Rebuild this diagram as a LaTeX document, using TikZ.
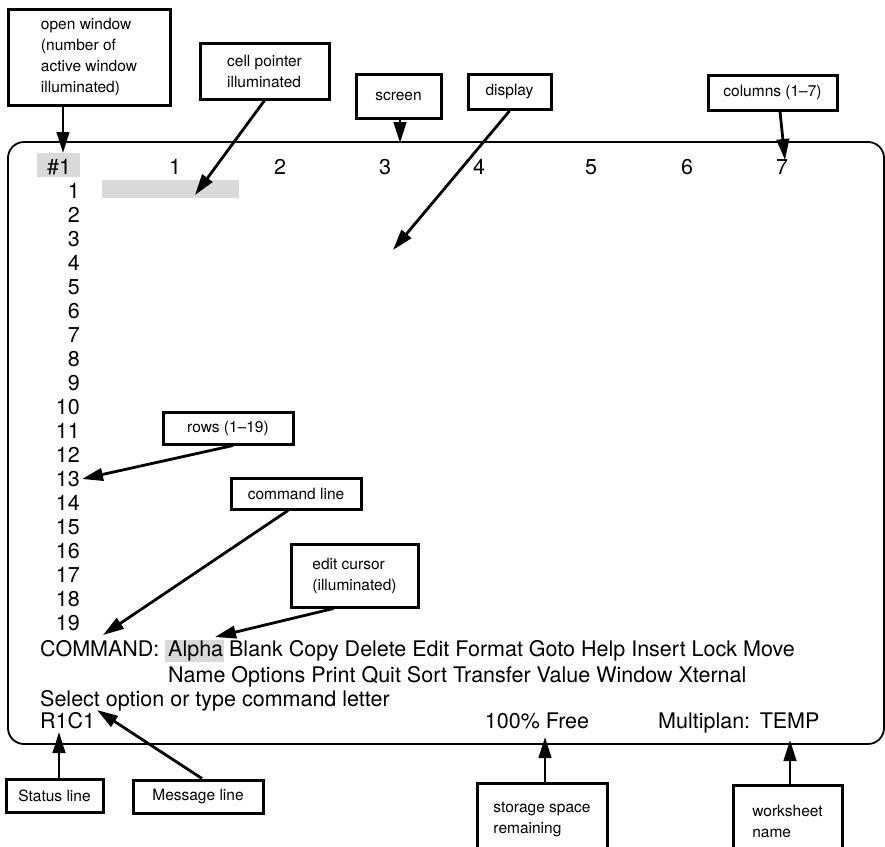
\documentclass[tikz,border=0pt]{standalone}
\usepackage{fontspec}
\setmainfont{TeX Gyre Heros}
\usetikzlibrary{arrows.meta}
\begin{document}
\begin{tikzpicture}[x=1pt,y=-1pt,
  cbox/.style={draw, line width=3pt, font=\fontsize{15.5}{21}\selectfont, inner sep=0pt, align=left},
  arr/.style={line width=2.8pt, -{Triangle[length=21pt,width=12.5pt]}},
  scr/.style={font=\fontsize{21.5}{24}\selectfont, inner sep=0pt},
  litbg/.style={fill=gray!30, draw=none, inner sep=0pt}]
\clip (0,0) rectangle (885,846);
% screen
\draw[line width=1.8pt, rounded corners=16pt] (8,142) rectangle (884,744);
% illuminated areas
\node[litbg, minimum width=43, minimum height=24] (winbg) at (58.5,165) {};
\node[litbg, minimum width=137, minimum height=18] (ptr) at (170.5,189) {};
\node[litbg, minimum width=59, minimum height=22] (alphabg) at (194.5,651) {};
% header
\node[scr, anchor=base] (win) at (59,174.5) {\#1};
\foreach \c/\x in {1/175,2/280,3/385,4/479,5/591,6/687,7/782}
  \node[scr, anchor=base] (col\c) at (\x,174.5) {\c};
% rows
\foreach \r in {1,...,19}
  \node[scr, anchor=base east] (row\r) at (80,{198.5+24*(\r-1)}) {\r};
% command area
\node[scr, anchor=base west] (cmd) at (40,656) {COMMAND:};
\node[scr, anchor=base west] (menu1) at (168,656) {Alpha Blank Copy Delete Edit Format Goto Help Insert Lock Move};
\node[scr, anchor=base west] (menu2) at (168,682) {Name Options Print Quit Sort Transfer Value Window Xternal};
\node[scr, anchor=base west] (msg) at (40,706) {Select option or type command letter};
\node[scr, anchor=base west] (stat) at (40,728) {R1C1};
\node[scr, anchor=base] (free) at (537,728) {100\% Free};
\node[scr, anchor=base west] (wsn) at (658,728) {Multiplan:\ \,TEMP};
% callout boxes
\node[cbox, minimum width=162, minimum height=96] (bOW) at (89,57) {open window\\(number of\\active window\\illuminated)};
\node[cbox, minimum width=129, minimum height=56] (bCP) at (264.5,71) {cell pointer\\illuminated};
\node[cbox, minimum width=85, minimum height=44, align=center] (bSC) at (398.5,96) {screen};
\node[cbox, minimum width=83, minimum height=35, align=center] (bDS) at (509.5,92) {display};
\node[cbox, minimum width=129, minimum height=35, align=center] (bCO) at (772.5,92.5) {columns (1--7)};
\node[cbox, minimum width=130, minimum height=32, align=center] (bRW) at (228,428) {rows (1--19)};
\node[cbox, minimum width=130, minimum height=31, align=center] (bCL) at (296,493.5) {command line};
\node[cbox, minimum width=127, minimum height=63] (bEC) at (354.5,575.5) {edit cursor\\(illuminated)};
\node[cbox, minimum width=97, minimum height=33, align=center] (bST) at (54.5,795.5) {Status line};
\node[cbox, minimum width=130, minimum height=33, align=center] (bMS) at (198,796.5) {Message line};
\node[cbox, minimum width=130, minimum height=72] (bSS) at (542,819) {storage space\\remaining};
\node[cbox, minimum width=109, minimum height=72] (bWN) at (787.5,821) {worksheet\\name};
% targets
\coordinate (tOW) at (63,153);
\coordinate (tCP) at (195,195);
\coordinate (tSC) at (400,143);
\coordinate (tDS) at (393,250);
\coordinate (tCO) at (785,160);
\coordinate (tRW) at (82,479);
\coordinate (tCL) at (103,635);
\coordinate (tEC) at (215,637);
\coordinate (tST) at (59,732);
\coordinate (tMS) at (97,710);
\coordinate (tSS) at (545,737);
\coordinate (tWN) at (790,740);
% connectors
\draw[arr] ([xshift=-26pt]bOW.south) -- (tOW);
\draw[arr] (bCP.south) -- (tCP);
\draw[arr] ([xshift=1.5pt]bSC.south) -- (tSC);
\draw[arr] (bDS.south) -- (tDS);
\draw[arr] ([xshift=7.5pt]bCO.south) -- (tCO);
\draw[arr] ([xshift=5pt]bRW.south) -- (tRW);
\draw[arr] ([xshift=-8pt]bCL.south) -- (tCL);
\draw[arr] ([xshift=-21pt]bEC.south) -- (tEC);
\draw[arr] ([xshift=4.5pt]bST.north) -- (tST);
\draw[arr] ([xshift=4pt]bMS.north) -- (tMS);
\draw[arr] ([xshift=3pt]bSS.north) -- (tSS);
\draw[arr] ([xshift=2.5pt]bWN.north) -- (tWN);
\end{tikzpicture}
\end{document}
